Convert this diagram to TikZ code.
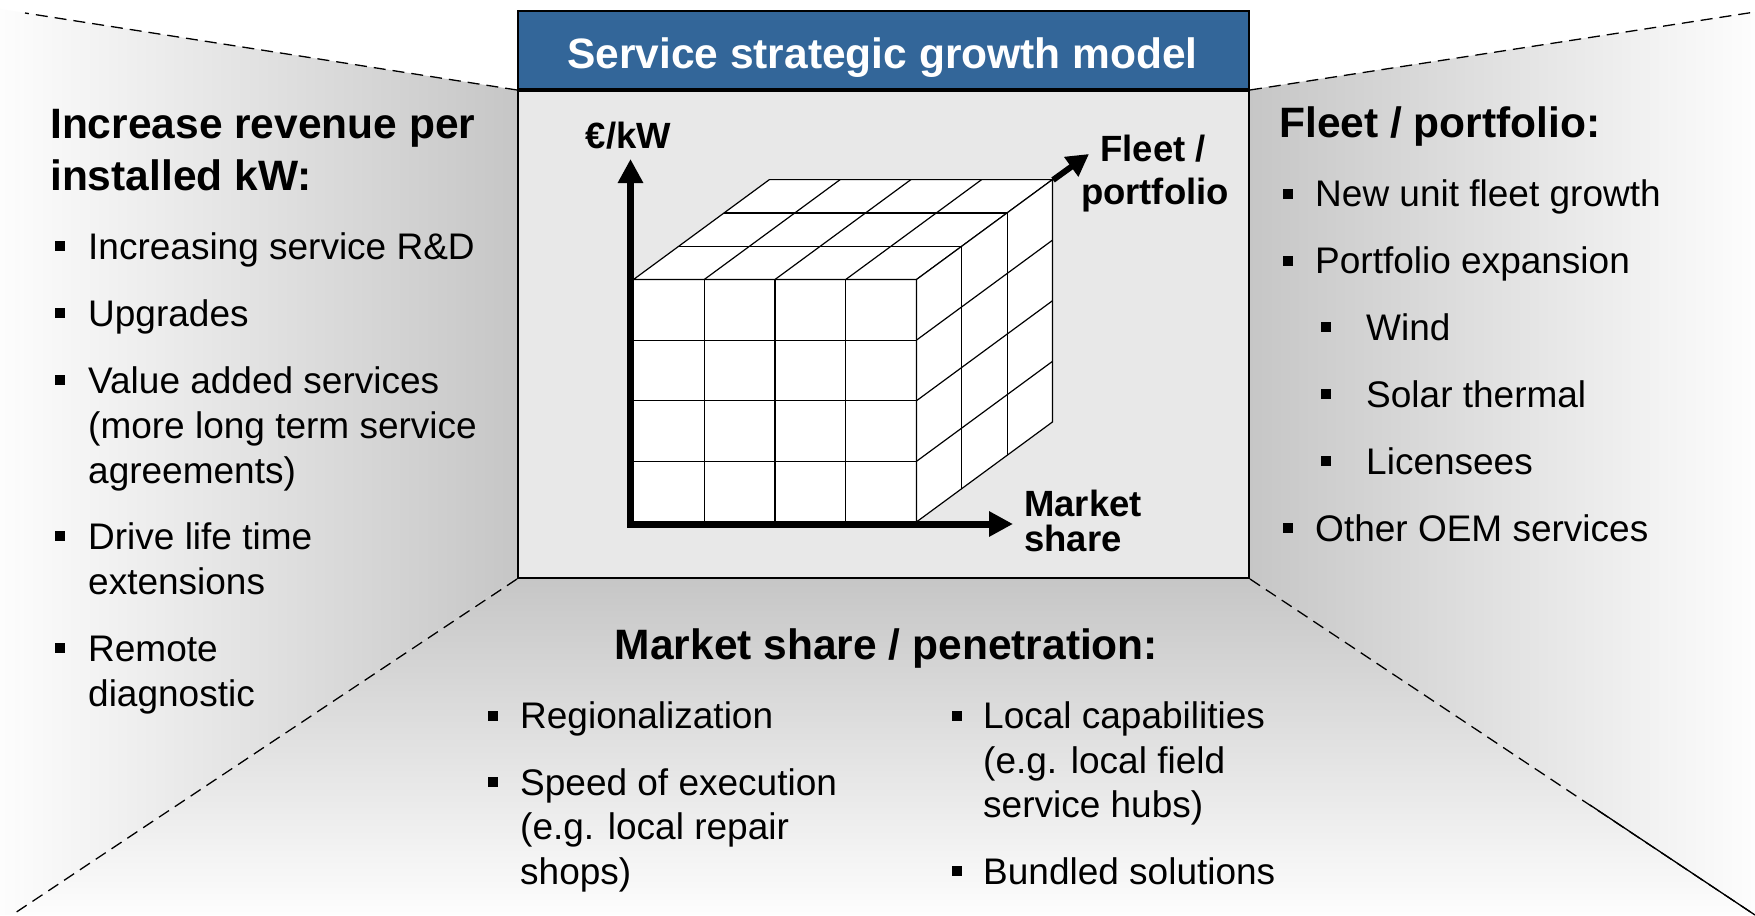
\documentclass[tikz,border=0pt]{standalone}
\usepackage{fontspec}
\setmainfont{Liberation Sans}
\usetikzlibrary{arrows.meta}
\definecolor{hdrblue}{RGB}{51,102,153}
\definecolor{boxgray}{RGB}{232,232,232}
\definecolor{wallgray}{RGB}{198,198,198}
\definecolor{wallwhite}{RGB}{253,253,253}
\begin{document}
\begin{tikzpicture}[x=1pt,y=-1pt,
  headtxt/.style={font=\fontsize{42.5}{51}\selectfont\bfseries, inner sep=0pt, anchor=base west},
  bodytxt/.style={font=\fontsize{37}{44.5}\selectfont, inner sep=0pt, anchor=base west},
  axlabel/.style={font=\fontsize{36.5}{43}\selectfont\bfseries, inner sep=0pt},
  bul/.style={rectangle, fill=black, minimum size=10pt, inner sep=0pt},
  wall/.style={line width=1.3pt, dash pattern=on 12pt off 7pt},
  cubeline/.style={line width=1.2pt, line join=miter},
  axarrow/.style={line width=7pt, line join=miter}
]
\useasboundingbox (0,0) rectangle (1755,915);
\fill[white] (0,0) rectangle (1755,915);

% walls and floor
\shade[left color=wallwhite, right color=wallgray] (0,9) -- (517,90) -- (517,577) -- (12,915) -- (0,915) -- cycle;
\shade[left color=wallgray, right color=wallwhite] (1248,90) -- (1755,12) -- (1755,915) -- (1248,577) -- cycle;
\shade[top color=wallgray, bottom color=wallwhite] (517,577) -- (1248,577) -- (1755,915) -- (12,915) -- cycle;

% room box
\node[draw, line width=2pt, fill=boxgray, minimum width=731pt, minimum height=487pt, inner sep=0pt, anchor=north west] (body) at (517,90) {};
\node[draw, line width=2pt, fill=hdrblue, minimum width=731pt, minimum height=78pt, inner sep=0pt, anchor=south west] (hdr) at (517,90) {};
\node[font=\fontsize{42.5}{51}\selectfont\bfseries, text=white, inner sep=0pt, anchor=base] (title) at (882.5,69) {Service strategic growth model};

% perspective edges
\coordinate (ctl) at (25,13);
\coordinate (ctr) at (1755,12);
\coordinate (cbl) at (12,915);
\coordinate (cbr) at (1755,915);
\coordinate (cbrs) at (1590,805);
\draw[wall] (body.north west) -- (ctl);
\draw[wall] (body.north east) -- (ctr);
\draw[wall] (body.south west) -- (cbl);
\draw[wall] (body.south east) -- (cbr);
\draw[line width=1.3pt] (cbrs) -- (cbr);

% cube
\def\cubeX{633.5}\def\cubeY{279.5}\def\cubeW{70.75}\def\cubeH{60.6}\def\cubeDX{45.3}\def\cubeDY{-33.3}
\filldraw[cubeline, fill=white] (\cubeX,\cubeY) rectangle ++({4*\cubeW},{4*\cubeH});
\filldraw[cubeline, fill=white] (\cubeX,\cubeY) -- ++({4*\cubeW},0) -- ++({3*\cubeDX},{3*\cubeDY}) -- ++({-4*\cubeW},0) -- cycle;
\filldraw[cubeline, fill=white] ({\cubeX+4*\cubeW},\cubeY) -- ++(0,{4*\cubeH}) -- ++({3*\cubeDX},{3*\cubeDY}) -- ++(0,{-4*\cubeH}) -- cycle;
\foreach \i in {1,2,3} {
  \draw[cubeline] ({\cubeX+\i*\cubeW},\cubeY) -- ++(0,{4*\cubeH});
  \draw[cubeline] (\cubeX,{\cubeY+\i*\cubeH}) -- ++({4*\cubeW},0);
  \draw[cubeline] ({\cubeX+\i*\cubeW},\cubeY) -- ++({3*\cubeDX},{3*\cubeDY});
  \draw[cubeline] ({\cubeX+4*\cubeW},{\cubeY+\i*\cubeH}) -- ++({3*\cubeDX},{3*\cubeDY});
}
\foreach \j in {1,2} {
  \draw[cubeline] ({\cubeX+\j*\cubeDX},{\cubeY+\j*\cubeDY}) -- ++({4*\cubeW},0);
  \draw[cubeline] ({\cubeX+4*\cubeW+\j*\cubeDX},{\cubeY+\j*\cubeDY}) -- ++(0,{4*\cubeH});
}

% axes
\coordinate (ytip) at (630.5,159);
\coordinate (origin) at (630.5,524);
\coordinate (xtip) at (1013,524);
\coordinate (zbase) at (1053,180);
\coordinate (ztip) at (1089,154);
\draw[axarrow, {Triangle[length=24pt,width=24pt]}-{Triangle[length=24pt,width=24pt]}] (ytip) -- (origin) -- (xtip);
\draw[line width=6pt, -{Triangle[length=22pt,width=23pt]}] (zbase) -- (ztip);

\node[axlabel, anchor=base] (lbly) at (628.5,148) {€/kW};
\node[axlabel, anchor=base] (lblz1) at (1153,161) {Fleet /};
\node[axlabel, anchor=base] (lblz2) at (1155,204) {portfolio};
\node[axlabel, anchor=base west] (lblx1) at (1024,516) {Market};
\node[axlabel, anchor=base west] (lblx2) at (1024,551) {share};

% left wall text
\node[headtxt] (lh1) at (50,139) {Increase revenue per};
\node[headtxt] (lh2) at (50,190) {installed kW:};
\node[bul] (lb1) at (60,246) {};
\node[bodytxt] (lt1) at (88,259) {Increasing service R\&D};
\node[bul] (lb2) at (60,313) {};
\node[bodytxt] (lt2) at (88,326) {Upgrades};
\node[bul] (lb3) at (60,380) {};
\node[bodytxt] (lt3) at (88,393) {Value added services};
\node[bodytxt] (lt3b) at (88,438) {(more long term service};
\node[bodytxt] (lt3c) at (88,483) {agreements)};
\node[bul] (lb4) at (60,536) {};
\node[bodytxt] (lt4) at (88,549) {Drive life time};
\node[bodytxt] (lt4b) at (88,594) {extensions};
\node[bul] (lb5) at (60,648) {};
\node[bodytxt] (lt5) at (88,661) {Remote};
\node[bodytxt] (lt5b) at (88,706) {diagnostic};

% right wall text
\node[headtxt] (rh1) at (1279,138) {Fleet / portfolio:};
\node[bul] (rb1) at (1288,193.5) {};
\node[bodytxt] (rt1) at (1315,206.5) {New unit fleet growth};
\node[bul] (rb2) at (1288,260.5) {};
\node[bodytxt] (rt2) at (1315,273.5) {Portfolio expansion};
\node[bul] (rb3) at (1325.5,327) {};
\node[bodytxt] (rt3) at (1366,340) {Wind};
\node[bul] (rb4) at (1325.5,394) {};
\node[bodytxt] (rt4) at (1366,407) {Solar thermal};
\node[bul] (rb5) at (1325.5,461) {};
\node[bodytxt] (rt5) at (1366,474) {Licensees};
\node[bul] (rb6) at (1288,528) {};
\node[bodytxt] (rt6) at (1315,541) {Other OEM services};

% floor text
\node[headtxt, anchor=base] (fh) at (886.5,659) {Market share / penetration:};
\node[bul] (fb1) at (492.5,715.5) {};
\node[bodytxt] (ft1) at (520,728.5) {Regionalization};
\node[bul] (fb2) at (492.5,782) {};
\node[bodytxt] (ft2) at (520,795) {Speed of execution};
\node[bodytxt] (ft2b) at (520,839.5) {(e.g. local repair};
\node[bodytxt] (ft2c) at (520,884) {shops)};
\node[bul] (gb1) at (956.5,715.5) {};
\node[bodytxt] (gt1) at (983,728.5) {Local capabilities};
\node[bodytxt] (gt1b) at (983,773) {(e.g. local field};
\node[bodytxt] (gt1c) at (983,817.5) {service hubs)};
\node[bul] (gb2) at (956.5,871) {};
\node[bodytxt] (gt2) at (983,884) {Bundled solutions};
\end{tikzpicture}
\end{document}
